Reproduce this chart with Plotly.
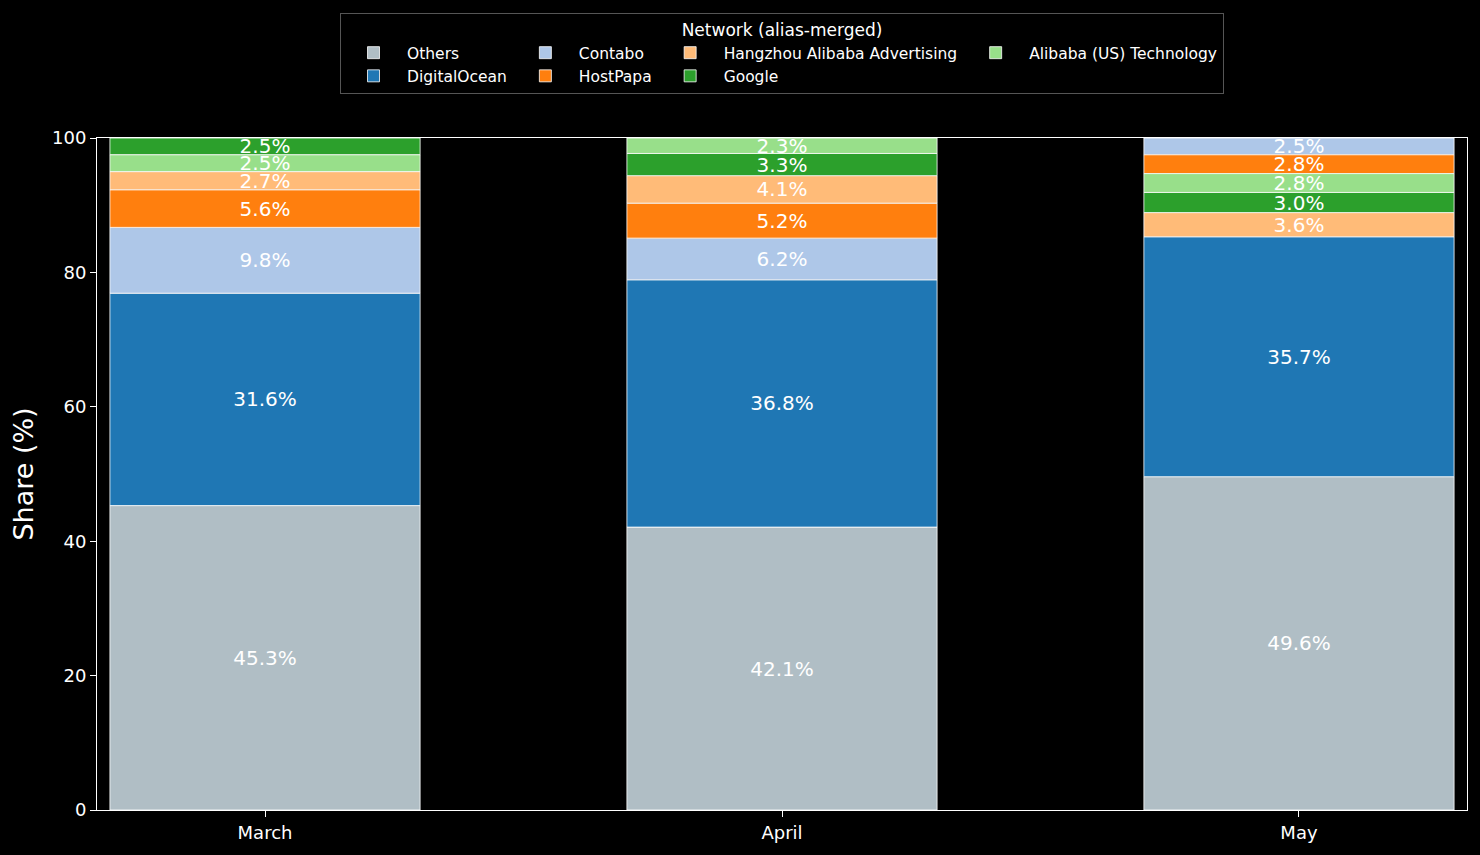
import plotly.graph_objects as go

months = ["March", "April", "May"]

others = [45.3, 42.1, 49.6]
digitalocean = [31.6, 36.8, 35.7]
contabo = [9.8, 6.2, 2.5]
hostpapa = [5.6, 5.2, 2.8]
hangzhou_alibaba = [2.7, 4.1, 3.6]
google = [2.5, 3.3, 3.0]
alibaba_us = [2.5, 2.3, 2.8]

# bottom-to-top order of the segments in each month's bar
stack_order = [
    ["Others", "DigitalOcean", "Contabo", "HostPapa",
     "Hangzhou Alibaba Advertising", "Alibaba (US) Technology", "Google"],
    ["Others", "DigitalOcean", "Contabo", "HostPapa",
     "Hangzhou Alibaba Advertising", "Google", "Alibaba (US) Technology"],
    ["Others", "DigitalOcean", "Hangzhou Alibaba Advertising", "Google",
     "Alibaba (US) Technology", "HostPapa", "Contabo"],
]

series = {
    "Others": others,
    "DigitalOcean": digitalocean,
    "Contabo": contabo,
    "HostPapa": hostpapa,
    "Hangzhou Alibaba Advertising": hangzhou_alibaba,
    "Google": google,
    "Alibaba (US) Technology": alibaba_us,
}

colors = {
    "Others": "#b0bec5",
    "DigitalOcean": "#1f77b4",
    "Contabo": "#aec7e8",
    "HostPapa": "#ff7f0e",
    "Hangzhou Alibaba Advertising": "#ffbb78",
    "Google": "#2ca02c",
    "Alibaba (US) Technology": "#98df8a",
}

# legend columns, like matplotlib's ncol=4 layout
legend_cols = {
    "Others": "c1", "DigitalOcean": "c1",
    "Contabo": "c2", "HostPapa": "c2",
    "Hangzhou Alibaba Advertising": "c3", "Google": "c3",
    "Alibaba (US) Technology": "c4",
}

FONT = "DejaVu Sans"


def bases_for(name):
    out = []
    for i in range(len(months)):
        b = 0.0
        for n in stack_order[i]:
            if n == name:
                break
            b += series[n][i]
        out.append(b)
    return out


fig = go.Figure()
for name, vals in series.items():
    fig.add_bar(
        x=months, y=vals, base=bases_for(name), name=name,
        legendgroup=legend_cols[name],
        marker=dict(color=colors[name], line=dict(color="white", width=0.8)),
        width=0.6,
        text=[f"{v:.1f}%" for v in vals],
        textposition="inside", insidetextanchor="middle", textangle=0,
        constraintext="none",
        insidetextfont=dict(color="white", size=20, family=FONT),
        hoverinfo="skip",
    )

fig.update_layout(
    barmode="overlay",
    width=1480, height=855,
    paper_bgcolor="black", plot_bgcolor="black",
    font=dict(family=FONT, color="white", size=18),
    margin=dict(l=97, r=13, t=138, b=45),
    legend=dict(
        orientation="h", traceorder="grouped", tracegroupgap=0,
        itemwidth=57,
        x=0.5, xanchor="center", y=1.186, yanchor="top",
        bgcolor="black", bordercolor="#555555", borderwidth=1,
        font=dict(size=15.5, color="white"),
        title=dict(text="Network (alias-merged)", side="top center",
                   font=dict(size=17, color="white")),
    ),
    xaxis=dict(
        range=[-0.325, 2.325], showgrid=False, zeroline=False,
        showline=True, linecolor="white", linewidth=1, mirror=True,
        ticks="outside", ticklen=6, tickcolor="white",
        tickfont=dict(size=18),
    ),
    yaxis=dict(
        range=[0, 100], tickvals=[0, 20, 40, 60, 80, 100],
        showgrid=False, zeroline=False,
        showline=True, linecolor="white", linewidth=1, mirror=True,
        ticks="outside", ticklen=6, tickcolor="white",
        tickfont=dict(size=18),
        title=dict(text="Share (%)", font=dict(size=27), standoff=10),
    ),
)

fig.write_html("out.html", config={"displayModeBar": False},
               post_script="document.body.style.margin = '0';")
